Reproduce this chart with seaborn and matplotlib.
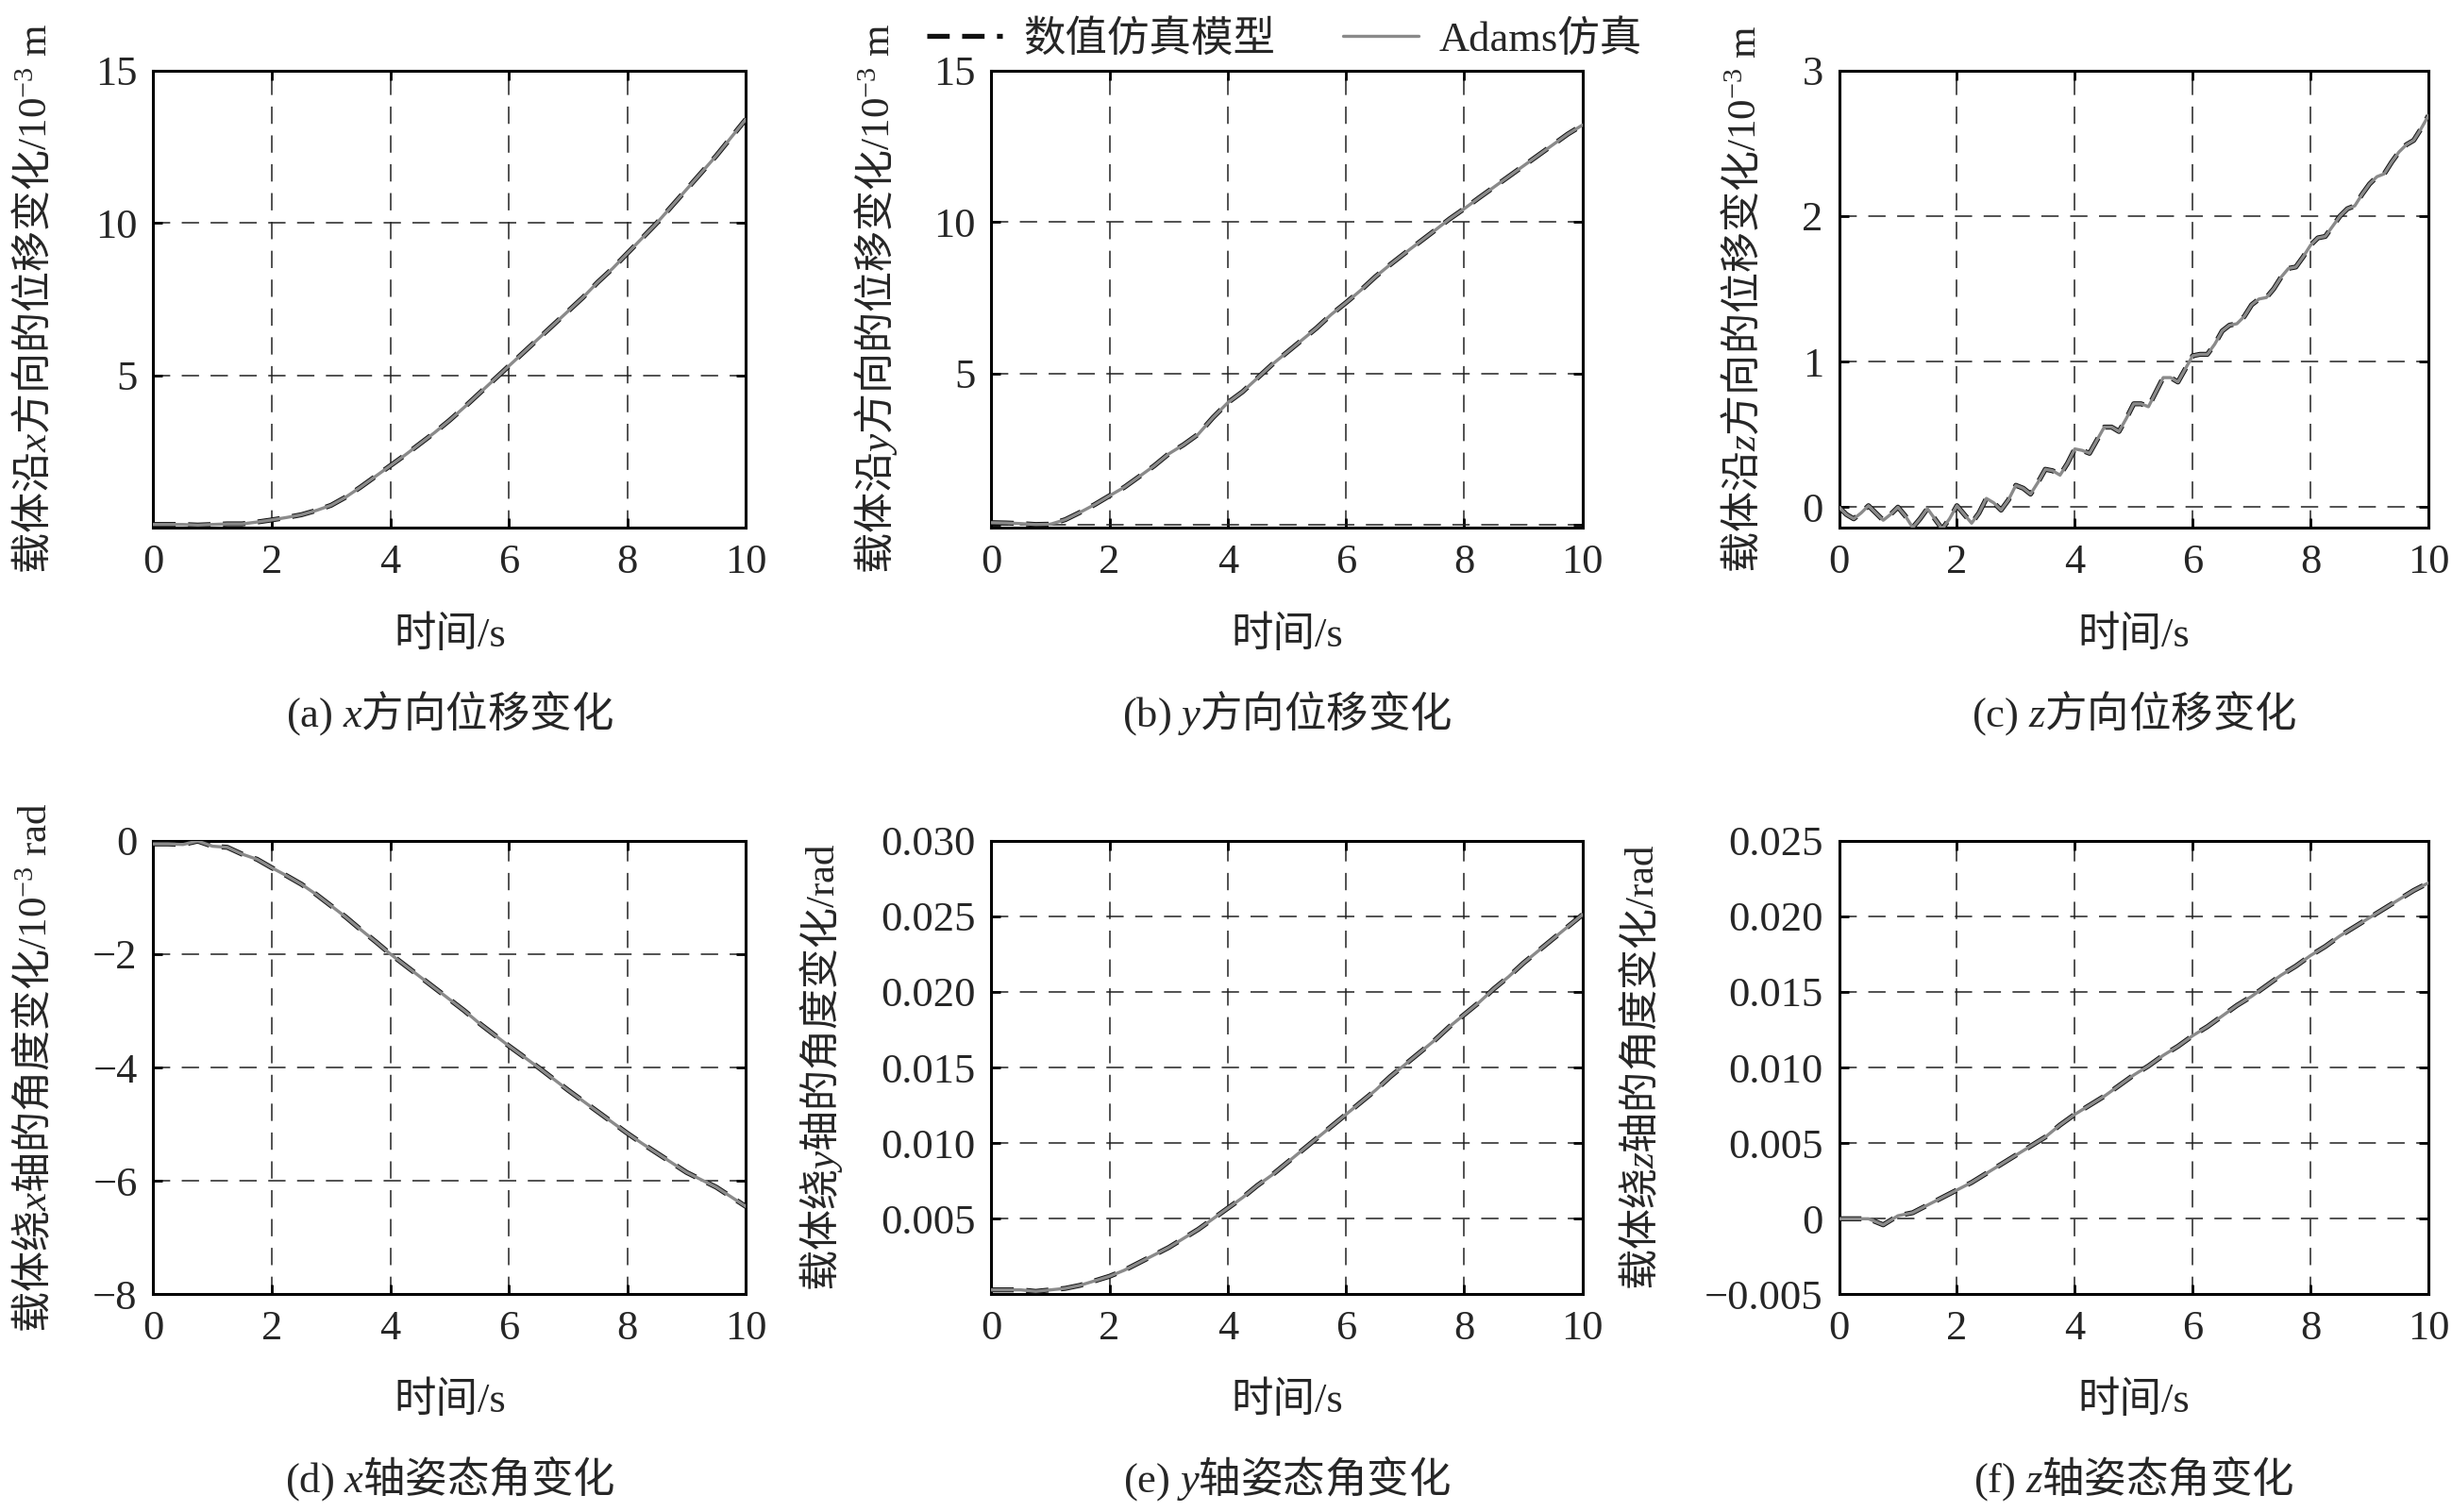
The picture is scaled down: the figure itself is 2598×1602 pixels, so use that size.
import numpy as np
import pandas as pd
import matplotlib
matplotlib.use("Agg")
import matplotlib.pyplot as plt
import seaborn as sns

# sampling times (s)
t_coarse = np.linspace(0, 10, 41)   # 0.25 s step
t_fine = np.linspace(0, 10, 81)     # 0.125 s step (z displacement)

# (a) x displacement, 10^-3 m
x_disp = [0.10, 0.10, 0.10, 0.08, 0.10, 0.12, 0.12, 0.18, 0.25, 0.33, 0.42, 0.56, 0.73,
          1.00, 1.33, 1.68, 2.03, 2.38, 2.75, 3.12, 3.52, 3.95, 4.40, 4.85, 5.30, 5.75,
          6.20, 6.65, 7.10, 7.55, 8.05, 8.50, 9.00, 9.50, 10.00, 10.55, 11.10, 11.65,
          12.20, 12.80, 13.40]

# (b) y displacement, 10^-3 m
y_disp = [0.08, 0.07, 0.05, 0.02, 0.03, 0.18, 0.42, 0.68, 0.97, 1.25, 1.60, 1.95, 2.35,
          2.65, 3.00, 3.55, 4.04, 4.40, 4.85, 5.30, 5.70, 6.10, 6.50, 6.95, 7.34, 7.75,
          8.20, 8.60, 8.98, 9.35, 9.72, 10.10, 10.44, 10.80, 11.15, 11.50, 11.85, 12.20,
          12.55, 12.90, 13.20]

# (c) z displacement, 10^-3 m
z_disp = [0.00, -0.05, -0.08, -0.04, 0.01, -0.04, -0.09, -0.05, 0.00, -0.06, -0.14,
          -0.08, -0.01, -0.08, -0.15, -0.08, 0.01, -0.05, -0.11, -0.04, 0.06, 0.03,
          -0.02, 0.05, 0.15, 0.13, 0.09, 0.17, 0.26, 0.25, 0.22, 0.30, 0.40, 0.39, 0.37,
          0.46, 0.55, 0.55, 0.52, 0.61, 0.71, 0.71, 0.69, 0.79, 0.89, 0.89, 0.86, 0.95,
          1.04, 1.05, 1.05, 1.12, 1.21, 1.25, 1.26, 1.31, 1.39, 1.43, 1.44, 1.50, 1.58,
          1.64, 1.65, 1.72, 1.80, 1.85, 1.86, 1.93, 2.00, 2.05, 2.07, 2.15, 2.22, 2.27,
          2.29, 2.37, 2.44, 2.49, 2.52, 2.60, 2.69]

# (d) rotation about x, 10^-3 rad
x_rot = [-0.06, -0.06, -0.07, -0.01, -0.10, -0.12, -0.24, -0.33, -0.48, -0.62, -0.77,
         -0.95, -1.15, -1.35, -1.57, -1.78, -2.00, -2.20, -2.40, -2.60, -2.80, -3.00,
         -3.22, -3.42, -3.62, -3.81, -4.00, -4.20, -4.40, -4.59, -4.78, -4.97, -5.16,
         -5.34, -5.51, -5.68, -5.85, -5.98, -6.11, -6.28, -6.45]

# (e) rotation about y, rad
y_rot = [0.0003, 0.0003, 0.0003, 0.0002, 0.0003, 0.0004, 0.0006, 0.0009, 0.0012, 0.0016,
         0.0021, 0.0026, 0.0031, 0.0037, 0.0043, 0.0050, 0.0057, 0.0064, 0.0072, 0.0079,
         0.0087, 0.0095, 0.0103, 0.0111, 0.0119, 0.0127, 0.0135, 0.0144, 0.0152, 0.0160,
         0.0168, 0.0177, 0.0185, 0.0193, 0.0202, 0.0210, 0.0219, 0.0227, 0.0235, 0.0243,
         0.0251]

# (f) rotation about z, rad
z_rot = [0.0000, 0.0000, 0.0000, -0.0004, 0.0002, 0.0004, 0.0009, 0.0014, 0.0019, 0.0024,
         0.0030, 0.0036, 0.0042, 0.0048, 0.0054, 0.0062, 0.0069, 0.0075, 0.0081, 0.0088,
         0.0095, 0.0101, 0.0108, 0.0114, 0.0121, 0.0127, 0.0134, 0.0141, 0.0147, 0.0154,
         0.0161, 0.0167, 0.0174, 0.0180, 0.0187, 0.0193, 0.0199, 0.0205, 0.0211, 0.0217,
         0.0222]

series_names = ["数值仿真模型", "Adams仿真"]

E3 = r"$\mathsf{/10}^{\mathsf{-3}}\mathsf{\ m}$"
E3r = r"$\mathsf{/10}^{\mathsf{-3}}\mathsf{\ rad}$"
RAD = r"$\mathsf{/rad}$"
ylabels = [
    "载体沿$x$方向的位移变化" + E3,
    "载体沿$y$方向的位移变化" + E3,
    "载体沿$z$方向的位移变化" + E3,
    "载体绕$x$轴的角度变化" + E3r,
    "载体绕$y$轴的角度变化" + RAD,
    "载体绕$z$轴的角度变化" + RAD,
]
captions = [
    r"$\mathsf{(a)}\ x$方向位移变化",
    r"$\mathsf{(b)}\ y$方向位移变化",
    r"$\mathsf{(c)}\ z$方向位移变化",
    r"$\mathsf{(d)}\ x$轴姿态角变化",
    r"$\mathsf{(e)}\ y$轴姿态角变化",
    r"$\mathsf{(f)}\ z$轴姿态角变化",
]

yticks = [
    [0, 5, 10, 15],
    [0, 5, 10, 15],
    [0, 1, 2, 3],
    [0, -2, -4, -6, -8],
    [0, 0.005, 0.010, 0.015, 0.020, 0.025, 0.030],
    [-0.005, 0, 0.005, 0.010, 0.015, 0.020, 0.025],
]
yticklabels = [
    ["", "5", "10", "15"],
    ["", "5", "10", "15"],
    ["0", "1", "2", "3"],
    ["0", "\u22122", "\u22124", "\u22126", "\u22128"],
    ["", "0.005", "0.010", "0.015", "0.020", "0.025", "0.030"],
    ["\u22120.005", "0", "0.005", "0.010", "0.015", "0.020", "0.025"],
]
ylims = [(0, 15), (-0.08, 15), (-0.14, 3), (-8, 0), (0, 0.030), (-0.005, 0.025)]

sns.set_theme(style="ticks")
plt.rcParams["font.family"] = ["Liberation Serif", "Noto Sans CJK SC"]
plt.rcParams["mathtext.fontset"] = "custom"
plt.rcParams["mathtext.rm"] = "Noto Sans CJK SC"
plt.rcParams["mathtext.it"] = "Liberation Serif:italic"
plt.rcParams["mathtext.sf"] = "Liberation Serif"
plt.rcParams["font.size"] = 16

CJK = ["Noto Sans CJK SC", "Liberation Serif"]

fig = plt.figure(figsize=(12.99, 8.01), dpi=200)

# axes boxes in figure fraction
lefts = [0.0625, 0.4043, 0.7500]
widths = [0.2417, 0.2411, 0.2404]
row_bottom = [0.6511, 0.1439]
row_height = [0.3023, 0.3002]
ylabel_x = [-0.20, -0.195, -0.162, -0.20, -0.288, -0.334]

panels = [
    (t_coarse, x_disp), (t_coarse, y_disp), (t_fine, z_disp),
    (t_coarse, x_rot), (t_coarse, y_rot), (t_coarse, z_rot),
]

axes = []
for i, (t, vals) in enumerate(panels):
    r, c = divmod(i, 3)
    ax = fig.add_axes([lefts[c], row_bottom[r], widths[c], row_height[r]])
    axes.append(ax)
    df = pd.DataFrame({"t": t, "v": vals})

    sns.lineplot(data=df, x="t", y="v", ax=ax, color="#111111", linewidth=1.9,
                 linestyle=(0, (4.5, 2.5)), label=series_names[0], zorder=3)
    sns.lineplot(data=df, x="t", y="v", ax=ax, color="#8a8a8a", linewidth=1.2,
                 label=series_names[1], zorder=4)

    ax.set_xlim(0, 10)
    ax.set_ylim(*ylims[i])
    ax.set_xticks([0, 2, 4, 6, 8, 10])
    ax.set_xticklabels(["0", "2", "4", "6", "8", "10"])
    ax.set_yticks(yticks[i])
    ax.set_yticklabels(yticklabels[i])

    ax.grid(True, color="#222222", linestyle=(0, (12, 8)), linewidth=0.55)
    ax.tick_params(direction="in", length=3.5, width=1.0, top=True, right=True,
                   labelsize=16, pad=6, color="black")
    for sp in ax.spines.values():
        sp.set_color("black")
        sp.set_linewidth(1.1)

    ax.set_xlabel("时间/s", fontsize=16)
    ax.xaxis.set_label_coords(0.5, -0.235)
    ax.xaxis.label.set_va("center")
    ax.set_ylabel(ylabels[i], fontsize=15.5, family=CJK)
    ax.yaxis.set_label_coords(ylabel_x[i], 0.5)
    ax.yaxis.label.set_va("center")
    ax.text(0.5, -0.405, captions[i], transform=ax.transAxes, ha="center",
            va="center", fontsize=16, family=CJK)
    ax.get_legend().remove()

handles, labels = axes[0].get_legend_handles_labels()
fig.legend(handles, labels, loc="upper center", bbox_to_anchor=(0.524, 1.012),
           ncol=2, frameon=False, fontsize=16, handlelength=1.8, columnspacing=1.6,
           handletextpad=0.5)

fig.savefig("out.png", dpi=200)
